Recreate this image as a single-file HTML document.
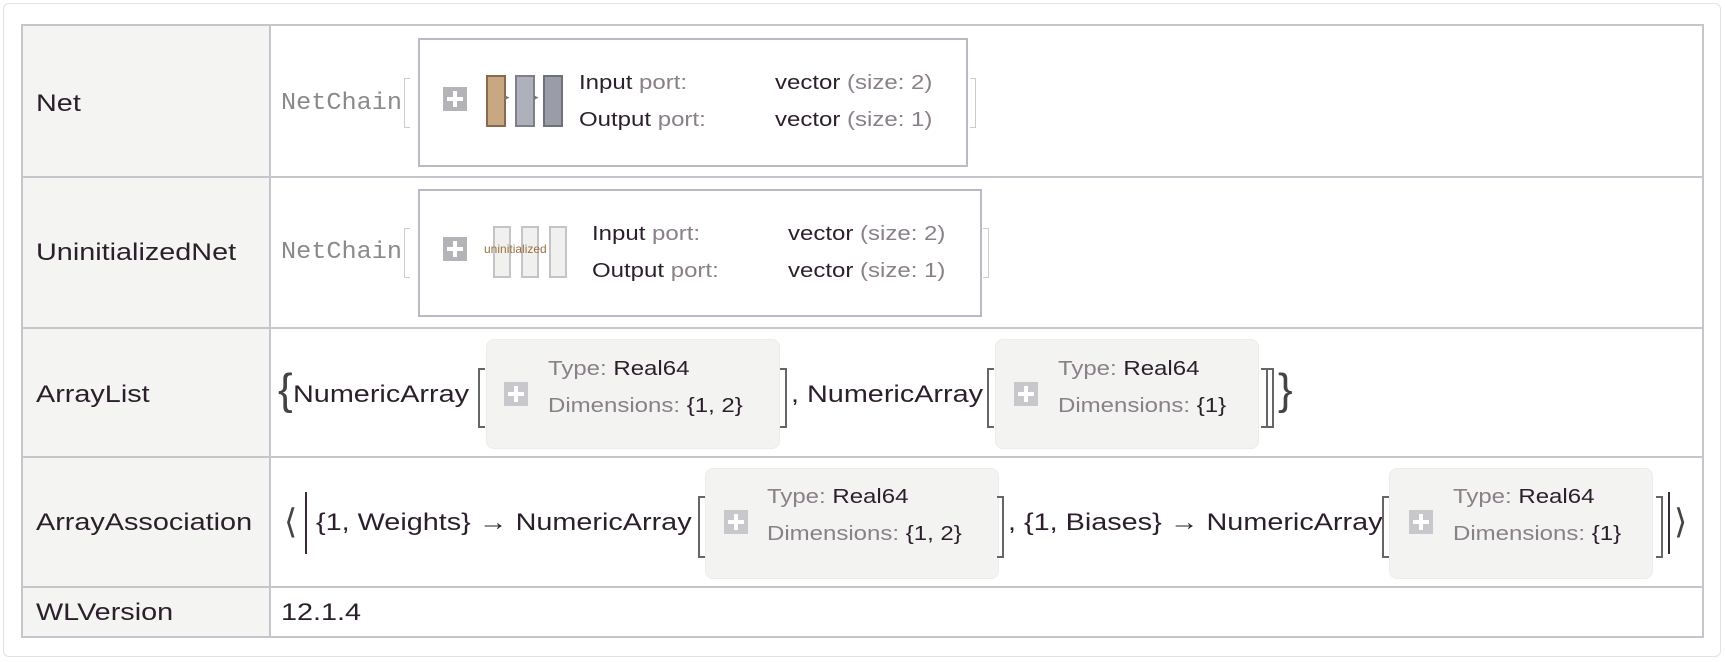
<!DOCTYPE html>
<html><head><meta charset="utf-8"><style>
body{margin:0;width:1725px;height:662px;background:#fff;position:relative;overflow:hidden;font-family:"Liberation Sans",sans-serif;color:#2b1f2b}
.a{position:absolute;white-space:nowrap;line-height:1}
.s{transform:scaleX(1.2);transform-origin:0 50%}
.card{position:absolute;left:3px;top:3px;width:1716px;height:652px;border:1px solid #e2e2e2;border-radius:6px}
.lab{position:absolute;left:22px;width:248px;background:#f4f4f2}
.hl{position:absolute;left:22px;width:1681px;height:2px;background:#c4c6cc}
.vl{position:absolute;width:2px;background:#c4c6cc}
.g{color:#8a8088}
.mono{font-family:"Liberation Mono",monospace;color:#8a8a8a}
.box{position:absolute;border:2px solid #b8bac4;background:#fff}
.gb{position:absolute;background:#f3f3f2;border-radius:8px;border:1px solid #ececea}
.plus{position:absolute;width:24px;height:24px;background:#b4b4b8}
.plus:before{content:"";position:absolute;left:10px;top:4px;width:4px;height:16px;background:#fff}
.plus:after{content:"";position:absolute;left:4px;top:10px;width:16px;height:4px;background:#fff}
.br{position:absolute;border:2px solid #666;border-right:none;width:5px}
.brr{position:absolute;border:2px solid #666;border-left:none;width:5px}
.lb{position:absolute;border:1px solid #ccc;border-right:none;width:5px}
.lbr{position:absolute;border:1px solid #ccc;border-left:none;width:5px}
</style></head><body>
<div class="card"></div>
<div class="lab" style="top:25px;height:612px"></div>
<div class="hl" style="top:24px"></div>
<div class="hl" style="top:176px"></div>
<div class="hl" style="top:327px"></div>
<div class="hl" style="top:456px"></div>
<div class="hl" style="top:586px"></div>
<div class="hl" style="top:636px"></div>
<div class="vl" style="left:21px;top:24px;height:614px"></div>
<div class="vl" style="left:269px;top:24px;height:614px"></div>
<div class="vl" style="left:1702px;top:24px;height:614px"></div>

<div class="a s" style="left:36px;top:92px;font-size:24px">Net</div>
<div class="a s" style="left:36px;top:241px;font-size:24px">UninitializedNet</div>
<div class="a s" style="left:36px;top:383px;font-size:24px">ArrayList</div>
<div class="a s" style="left:36px;top:511px;font-size:24px">ArrayAssociation</div>
<div class="a s" style="left:36px;top:601px;font-size:24px">WLVersion</div>

<div class="a mono" style="left:281px;top:92px;font-size:24px;transform:scaleX(1.05);transform-origin:0 50%">NetChain</div>
<div class="lb" style="left:404px;top:78px;height:48px"></div>
<div class="box" style="left:418px;top:38px;width:546px;height:125px"></div>
<div class="plus" style="left:443px;top:87px"></div>
<div style="position:absolute;left:486px;top:75px;width:16px;height:48px;background:#c8a882;border:2px solid #8a6a4a"></div>
<div style="position:absolute;left:515px;top:75px;width:16px;height:48px;background:#aeb0bc;border:2px solid #80808c"></div>
<div style="position:absolute;left:543px;top:75px;width:16px;height:48px;background:#9a9ca8;border:2px solid #70707c"></div>
<div class="a" style="left:505px;top:93px;font-size:9px;color:#777">▸</div>
<div class="a" style="left:534px;top:93px;font-size:9px;color:#777">▸</div>
<div class="a s" style="left:579px;top:73px;font-size:20px">Input <span class="g">port:</span></div>
<div class="a s" style="left:579px;top:110px;font-size:20px">Output <span class="g">port:</span></div>
<div class="a s" style="left:775px;top:73px;font-size:20px">vector <span class="g">(size: 2)</span></div>
<div class="a s" style="left:775px;top:110px;font-size:20px">vector <span class="g">(size: 1)</span></div>
<div class="lbr" style="left:970px;top:78px;height:48px"></div>

<div class="a mono" style="left:281px;top:241px;font-size:24px;transform:scaleX(1.05);transform-origin:0 50%">NetChain</div>
<div class="lb" style="left:404px;top:228px;height:48px"></div>
<div class="box" style="left:418px;top:189px;width:560px;height:124px"></div>
<div class="plus" style="left:443px;top:237px"></div>
<div style="position:absolute;left:493px;top:226px;width:14px;height:48px;background:#f0f0ee;border:2px solid #c4c4c8"></div>
<div style="position:absolute;left:521px;top:226px;width:14px;height:48px;background:#f0f0ee;border:2px solid #c4c4c8"></div>
<div style="position:absolute;left:549px;top:226px;width:14px;height:48px;background:#f0f0ee;border:2px solid #c4c4c8"></div>
<div class="a" style="left:484px;top:243px;font-size:12px;color:#9a7040">uninitialized</div>
<div class="a s" style="left:592px;top:224px;font-size:20px">Input <span class="g">port:</span></div>
<div class="a s" style="left:592px;top:261px;font-size:20px">Output <span class="g">port:</span></div>
<div class="a s" style="left:788px;top:224px;font-size:20px">vector <span class="g">(size: 2)</span></div>
<div class="a s" style="left:788px;top:261px;font-size:20px">vector <span class="g">(size: 1)</span></div>
<div class="lbr" style="left:983px;top:228px;height:48px"></div>

<div class="a" style="left:278px;top:368px;font-size:44px;font-weight:300;color:#444">{</div>
<div class="a s" style="left:293px;top:383px;font-size:24px">NumericArray</div>
<div class="br" style="left:478px;top:368px;height:56px"></div>
<div class="gb" style="left:486px;top:339px;width:292px;height:108px"></div>
<div class="plus" style="left:504px;top:382px;background:#c8c8cc"></div>
<div class="a s" style="left:548px;top:359px;font-size:20px"><span class="g">Type:</span> Real64</div>
<div class="a s" style="left:548px;top:396px;font-size:20px"><span class="g">Dimensions:</span> {1, 2}</div>
<div class="brr" style="left:780px;top:368px;height:56px"></div>
<div class="a s" style="left:791px;top:383px;font-size:24px">, NumericArray</div>
<div class="br" style="left:987px;top:368px;height:56px"></div>
<div class="gb" style="left:995px;top:339px;width:262px;height:108px"></div>
<div class="plus" style="left:1014px;top:382px;background:#c8c8cc"></div>
<div class="a s" style="left:1058px;top:359px;font-size:20px"><span class="g">Type:</span> Real64</div>
<div class="a s" style="left:1058px;top:396px;font-size:20px"><span class="g">Dimensions:</span> {1}</div>
<div class="brr" style="left:1261px;top:368px;height:56px"></div>
<div class="brr" style="left:1267px;top:368px;height:56px"></div>
<div class="a" style="left:1278px;top:368px;font-size:44px;font-weight:300;color:#444">}</div>

<div class="a" style="left:284px;top:505px;font-size:34px;color:#444">⟨</div>
<div style="position:absolute;left:305px;top:492px;width:2px;height:62px;background:#3a2a3a"></div>
<div class="a s" style="left:316px;top:511px;font-size:24px">{1, Weights} → NumericArray</div>
<div class="br" style="left:698px;top:496px;height:58px"></div>
<div class="gb" style="left:705px;top:468px;width:292px;height:109px"></div>
<div class="plus" style="left:724px;top:510px;background:#c8c8cc"></div>
<div class="a s" style="left:767px;top:487px;font-size:20px"><span class="g">Type:</span> Real64</div>
<div class="a s" style="left:767px;top:524px;font-size:20px"><span class="g">Dimensions:</span> {1, 2}</div>
<div class="brr" style="left:997px;top:496px;height:58px"></div>
<div class="a s" style="left:1008px;top:511px;font-size:24px">, {1, Biases} → NumericArray</div>
<div class="br" style="left:1382px;top:496px;height:58px"></div>
<div class="gb" style="left:1389px;top:468px;width:262px;height:109px"></div>
<div class="plus" style="left:1409px;top:510px;background:#c8c8cc"></div>
<div class="a s" style="left:1453px;top:487px;font-size:20px"><span class="g">Type:</span> Real64</div>
<div class="a s" style="left:1453px;top:524px;font-size:20px"><span class="g">Dimensions:</span> {1}</div>
<div class="brr" style="left:1656px;top:496px;height:58px"></div>
<div style="position:absolute;left:1668px;top:492px;width:2px;height:62px;background:#3a2a3a"></div>
<div class="a" style="left:1674px;top:505px;font-size:34px;color:#444">⟩</div>

<div class="a s" style="left:281px;top:601px;font-size:24px">12.1.4</div>
</body></html>
